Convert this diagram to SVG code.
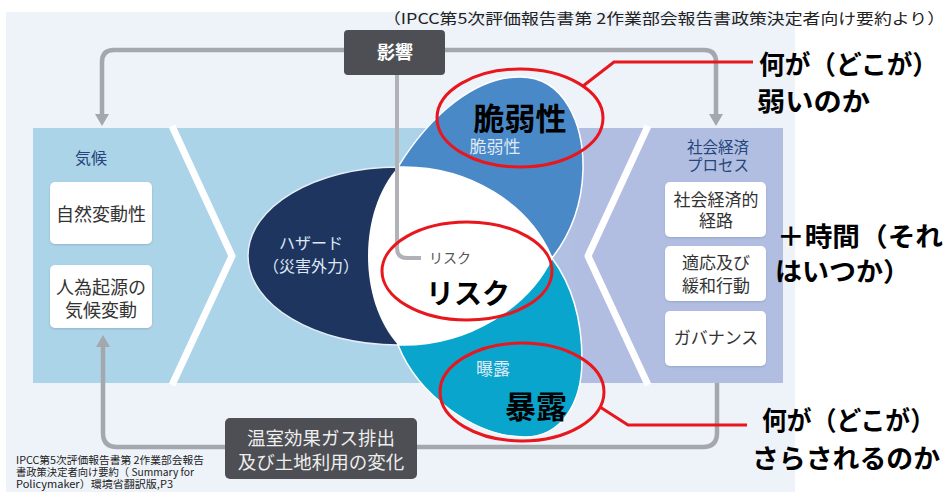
<svg xmlns="http://www.w3.org/2000/svg" width="948" height="492" viewBox="0 0 948 492">
<defs>
<style>
text{font-family:"Noto Sans CJK JP","Noto Sans",sans-serif;}
.conn{fill:none;stroke:#a4a7ad;stroke-width:4.5;}
.chev{fill:none;stroke:#ffffff;stroke-width:7;stroke-linejoin:round;}
.wbox{fill:#ffffff;filter:url(#sh);}
.btxt{font-size:18px;fill:#333333;text-anchor:middle;}
.rtxt{font-size:17px;fill:#333333;text-anchor:middle;}
.head{fill:#25467a;text-anchor:middle;}
.dbox{fill:#4d4f54;}
.red{fill:none;stroke:#e8161d;stroke-width:3;}
.ann{font-size:26px;font-weight:bold;fill:#000000;}
.big{font-weight:bold;fill:#000000;text-anchor:middle;}
.inn{fill:#dfe8f4;text-anchor:middle;}
.note{font-size:10.5px;fill:#222222;}
</style>
<marker id="arr" viewBox="0 0 12 14" refX="0" refY="7" markerWidth="12" markerHeight="14" markerUnits="userSpaceOnUse" orient="auto-start-reverse">
<path d="M0,0 L12,7 L0,14 Z" fill="#a4a7ad"/>
</marker>
<linearGradient id="band" gradientUnits="userSpaceOnUse" x1="33" y1="0" x2="783" y2="0">
<stop offset="0" stop-color="#acd4e9"/>
<stop offset="0.49" stop-color="#acd4e9"/>
<stop offset="0.73" stop-color="#b1bee2"/>
<stop offset="1" stop-color="#b1bee2"/>
</linearGradient>
<filter id="sh" x="-10%" y="-10%" width="120%" height="130%">
<feDropShadow dx="0" dy="1" stdDeviation="1.2" flood-color="#5a7a99" flood-opacity="0.35"/>
</filter>
</defs>

<rect x="0" y="0" width="948" height="492" fill="#ffffff"/>
<rect x="6" y="12" width="789" height="480" fill="#eef3f9"/>

<text x="383" y="24" font-size="15" fill="#222222" textLength="562" lengthAdjust="spacingAndGlyphs">（IPCC第5次評価報告書第 2作業部会報告書政策決定者向け要約より）</text>

<g id="bands">
<rect x="33" y="128" width="750" height="255" fill="url(#band)"/>
<polyline class="chev" points="172,126 232,256 172,385"/>
<polyline class="chev" points="648,126 588,256 648,385"/>
</g>

<g id="node-climate">
<text class="head" x="91" y="164" font-size="16">気候</text>
<rect class="wbox" x="50" y="182" width="102" height="62" rx="5"/>
<text class="btxt" x="101" y="221">自然変動性</text>
<rect class="wbox" x="50" y="265" width="102" height="63" rx="5"/>
<text class="btxt" x="101" y="294">人為起源の</text>
<text class="btxt" x="101" y="317">気候変動</text>
</g>

<g id="node-socio">
<text class="head" x="718" y="153" font-size="15.5">社会経済</text>
<text class="head" x="718" y="171" font-size="15.5">プロセス</text>
<rect class="wbox" x="665" y="182" width="101" height="55" rx="5"/>
<text class="rtxt" x="716" y="206">社会経済的</text>
<text class="rtxt" x="716" y="227">経路</text>
<rect class="wbox" x="665" y="246" width="101" height="55" rx="5"/>
<text class="rtxt" x="716" y="269">適応及び</text>
<text class="rtxt" x="716" y="292">緩和行動</text>
<rect class="wbox" x="665" y="311" width="101" height="55" rx="5"/>
<text class="rtxt" x="716" y="344">ガバナンス</text>
</g>

<g id="node-hazard">
<path d="M398,167 C315,167 248,207 248,256 C248,305 315,345 398,345 Z" fill="#1e355f" stroke="#e6eef7" stroke-width="1.5"/>
<text class="inn" x="311" y="249" font-size="16">ハザード</text>
<text class="inn" x="311" y="272" font-size="16">（災害外力）</text>
</g>

<g id="node-vulnerability">
<path d="M398,167 C430,115 475,77 520,77 C565,77 584,125 583,170 C582,205 570,235 552,258 C530,205 470,165 398,167 Z" fill="#4a89c8" stroke="#ffffff" stroke-width="1.5"/>
<text class="inn" x="495" y="153" font-size="17">脆弱性</text>
</g>

<g id="node-exposure">
<path d="M398,345 C470,347 530,305 552,258 C572,285 582,320 582,360 C582,405 560,437 525,437 C475,437 418,395 398,345 Z" fill="#0aa5cc" stroke="#ffffff" stroke-width="1.5"/>
<text class="inn" x="493" y="375" font-size="17">曝露</text>
</g>

<g id="node-risk">
<path d="M398,167 C470,165 530,205 552,258 C530,305 470,347 398,345 C378,322 368,290 368,256 C368,222 378,190 398,167 Z" fill="#ffffff"/>
</g>

<g id="connectors">
<path class="conn" d="M102,114 L102,62 Q102,50 114,50 L704,50 Q716,50 716,62 L716,114" marker-start="url(#arr)" marker-end="url(#arr)"/>
<path class="conn" d="M717,383 L717,433 Q717,447 703,447 L117,447 Q103,447 103,433 L103,347" marker-end="url(#arr)"/>
<path d="M397,75 L397,248 Q397,258 407,258 L421,258" fill="none" stroke="#b0b2b7" stroke-width="4"/>
</g>

<g id="node-risk-label">
<text x="450" y="263" font-size="14" fill="#555555" text-anchor="middle">リスク</text>
</g>

<g id="node-impact">
<rect class="dbox" x="344" y="30" width="101" height="45" rx="4"/>
<text x="395" y="59" font-size="18" font-weight="bold" fill="#ffffff" text-anchor="middle">影響</text>
</g>

<g id="node-emission">
<rect class="dbox" x="225" y="418" width="192" height="61" rx="5"/>
<text x="321" y="445" font-size="18.5" fill="#eeeeee" text-anchor="middle">温室効果ガス排出</text>
<text x="321" y="469" font-size="18.5" fill="#eeeeee" text-anchor="middle">及び土地利用の変化</text>
</g>

<g id="source-note">
<text class="note" x="16" y="464" textLength="188" lengthAdjust="spacingAndGlyphs">IPCC第5次評価報告書第 2作業部会報告</text>
<text class="note" x="16" y="476" textLength="178" lengthAdjust="spacingAndGlyphs">書政策決定者向け要約（ Summary for</text>
<text class="note" x="16" y="488" textLength="157" lengthAdjust="spacingAndGlyphs">Policymaker）環境省翻訳版,P3</text>
</g>

<g id="annotations">
<ellipse class="red" cx="520" cy="118" rx="83" ry="49"/>
<text class="big" x="520" y="130" font-size="31">脆弱性</text>
<path class="red" d="M583,86 L614,62 L753,62"/>
<text class="ann" x="759" y="74" textLength="179" lengthAdjust="spacingAndGlyphs">何が（どこが）</text>
<text class="ann" x="757" y="111" textLength="113" lengthAdjust="spacingAndGlyphs">弱いのか</text>

<ellipse class="red" cx="467" cy="271" rx="85" ry="49"/>
<text class="big" x="468" y="304" font-size="28">リスク</text>

<ellipse class="red" cx="522" cy="392" rx="82" ry="49"/>
<text class="big" x="536" y="418" font-size="31">暴露</text>
<path class="red" d="M600,407 L628,425 L747,425"/>
<text class="ann" x="762" y="430" textLength="173" lengthAdjust="spacingAndGlyphs">何が（どこが）</text>
<text class="ann" x="752" y="468" textLength="188" lengthAdjust="spacingAndGlyphs">さらされるのか</text>

<text class="ann" x="777" y="246" textLength="166" lengthAdjust="spacingAndGlyphs">＋時間（それ</text>
<text class="ann" x="775" y="281" textLength="135" lengthAdjust="spacingAndGlyphs">はいつか）</text>
</g>
</svg>
